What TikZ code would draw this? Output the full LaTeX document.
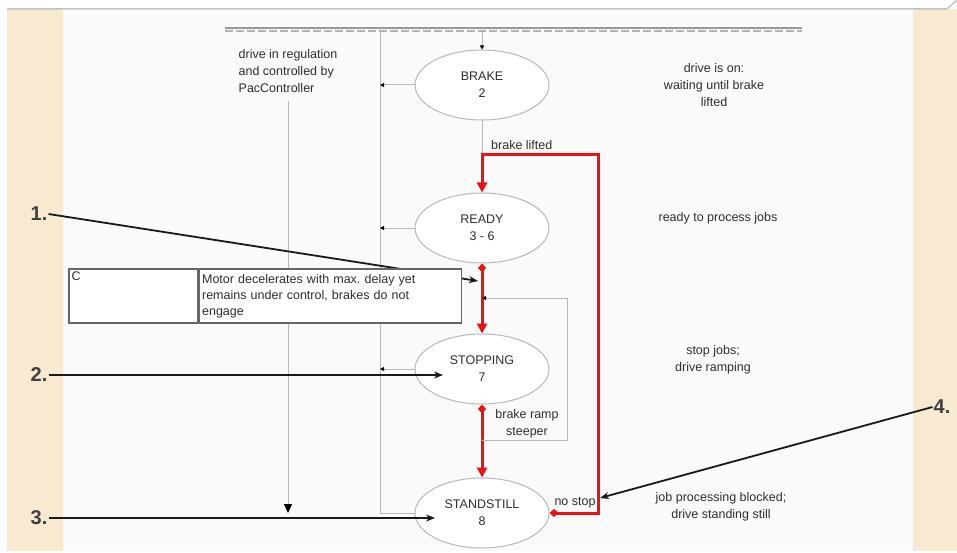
\documentclass[tikz,border=0pt]{standalone}
\usepackage{fontspec}
\setmainfont{Liberation Sans}
\usetikzlibrary{arrows.meta,positioning,shapes.geometric}
\definecolor{paper}{HTML}{FAFAFB}
\definecolor{sand}{HTML}{F8EAD0}
\definecolor{frame}{HTML}{C4C4C4}
\definecolor{wire}{HTML}{B8B8B8}
\definecolor{ink}{HTML}{2E2E2E}
\definecolor{grid}{HTML}{666666}
\definecolor{alarm}{HTML}{EE1111}
\newcommand{\plainfont}{\fontsize{12.5}{17}\selectfont}
\newcommand{\tablefont}{\fontsize{12.5}{16}\selectfont}
\newcommand{\calloutfont}{\fontsize{20}{22}\selectfont\bfseries}
\tikzset{
    statenode/.style={ellipse,draw=wire,fill=white,line width=1pt,
      minimum width=134pt,minimum height=70pt,inner sep=0pt,
      text=ink,font=\plainfont,align=center},
    notetext/.style={text=ink,font=\plainfont,align=center,inner sep=0pt},
    tablecell/.style={draw=grid,fill=white,line width=1.1pt,
      minimum height=54pt,inner sep=0pt,text=ink,font=\tablefont},
    callnum/.style={text=black!75,font=\calloutfont,inner sep=1pt},
    wireline/.style={draw=wire,line width=1pt},
    wirearrow/.style={wireline,-{Triangle[length=4pt,width=4pt]},
      arrows={[color=black]}},
    redpath/.style={draw=alarm,line width=3pt,
      {Diamond[length=9pt,width=8pt]}-{Triangle[length=10pt,width=10pt]}},
    pointer/.style={draw=black!90,line width=1.8pt,
      -{Stealth[length=9pt,width=7pt]}}
}

\begin{document}
\begin{tikzpicture}[x=1pt,y=-1pt,line join=miter]
  \useasboundingbox (0,0) rectangle (957,553);
  % page background
  \fill[white] (0,0) rectangle (957,553);
  \fill[paper] (7,9) rectangle (947,551);
  \fill[sand] (7,9) rectangle (63,551);
  \fill[sand] (913,9) rectangle (957,551);
  \draw[frame,line width=1.5pt] (7,9) -- (947,9) -- (957,0);

  % top rail
  \coordinate (railL) at (225,28);
  \coordinate (railR) at (802,28);
  \draw[draw=black!40,line width=1.6pt] (railL) -- (railR);
  \draw[draw=black!30,line width=1.6pt,dash pattern=on 8pt off 3pt]
    ([yshift=-3pt]railL) -- ([yshift=-3pt]railR);

  % states
  \node[statenode] (brake) at (482,85) {BRAKE\\2};
  \node[statenode,below=72pt of brake] (ready) {READY\\3 - 6};
  \node[statenode,below=70pt of ready] (stopping) {STOPPING\\7};
  \node[statenode,below=73pt of stopping] (standstill) {STANDSTILL\\8};

  % collecting line on the left of the states
  \coordinate (busTop) at (380,28);
  \draw[wireline] (busTop) -- (busTop |- standstill) -- (standstill.west);
  \draw[wirearrow] (brake.west) -- (busTop |- brake.west);
  \draw[wirearrow] (ready.west) -- (busTop |- ready.west);
  \draw[wirearrow] (stopping.west) -- (busTop |- stopping.west);
  \draw[wirearrow] ([yshift=-3pt]brake.north |- railL) -- (brake.north);

  % left comment with its arrow
  \node[notetext,align=left] (ctrl) at (288,71)
    {drive in regulation\\and controlled by\\PacController};
  \draw[wireline,-{Triangle[length=9pt,width=8pt]},arrows={[color=black]}]
    ([yshift=-8pt]ctrl.south) -- (ctrl.south |- standstill);

  % callout 1 runs behind the table
  \node[callnum] (n1) at (39,214) {1.};
  \coordinate (hit1) at (478,281);
  \draw[pointer] (n1.east) -- (hit1);

  % table excerpt
  \node[tablecell,minimum width=129pt,
    label={[anchor=north west,inner sep=3pt,text=ink,font=\tablefont]north west:C}]
    (tabC) at (133.5,296) {};
  \node[tablecell,minimum width=262pt,text width=256pt,align=left,
    right=0pt of tabC] (tabText)
    {Motor decelerates with max.\ delay yet\\remains under control, brakes do not\\engage};

  % transitions
  \coordinate (liftcorner) at (598,155);
  \draw[wireline] (brake.south) -- (brake.south |- liftcorner);
  \draw[redpath] (standstill.east) -| (liftcorner) -| (ready.north);
  \node[notetext,anchor=west] (liftlabel) at (491,145) {brake lifted};
  \node[notetext] (nostop) at (575,503) {no stop};
  \draw[redpath] (ready.south) -- (stopping.north);
  \draw[redpath] (stopping.south) -- (standstill.north);

  % steeper ramp loop
  \coordinate (rampA) at (482,440);
  \coordinate (rampB) at (567,298);
  \draw[wirearrow] (rampA) -- (rampB |- rampA) -- (rampB) -- (rampA |- rampB);
  \node[notetext] (ramplabel) at (527,424) {brake ramp\\steeper};

  % state descriptions
  \node[notetext] (descBrake) at (714,85) {drive is on:\\waiting until brake\\lifted};
  \node[notetext] (descReady) at (718,218) {ready to process jobs};
  \node[notetext] (descStop) at (713,360) {stop jobs;\\drive ramping};
  \node[notetext] (descStill) at (721,507) {job processing blocked;\\drive standing still};

  % callouts 2 to 4
  \node[callnum] (n2) at (39,375) {2.};
  \coordinate (hit2) at (443,375);
  \draw[pointer] (n2.east) -- (hit2);
  \node[callnum] (n3) at (39,518) {3.};
  \coordinate (hit3) at (435,518);
  \draw[pointer] (n3.east) -- (hit3);
  \node[callnum] (n4) at (942,407) {4.};
  \coordinate (hit4) at (600,498);
  \draw[pointer] (n4.west) -- (hit4);
\end{tikzpicture}
\end{document}
